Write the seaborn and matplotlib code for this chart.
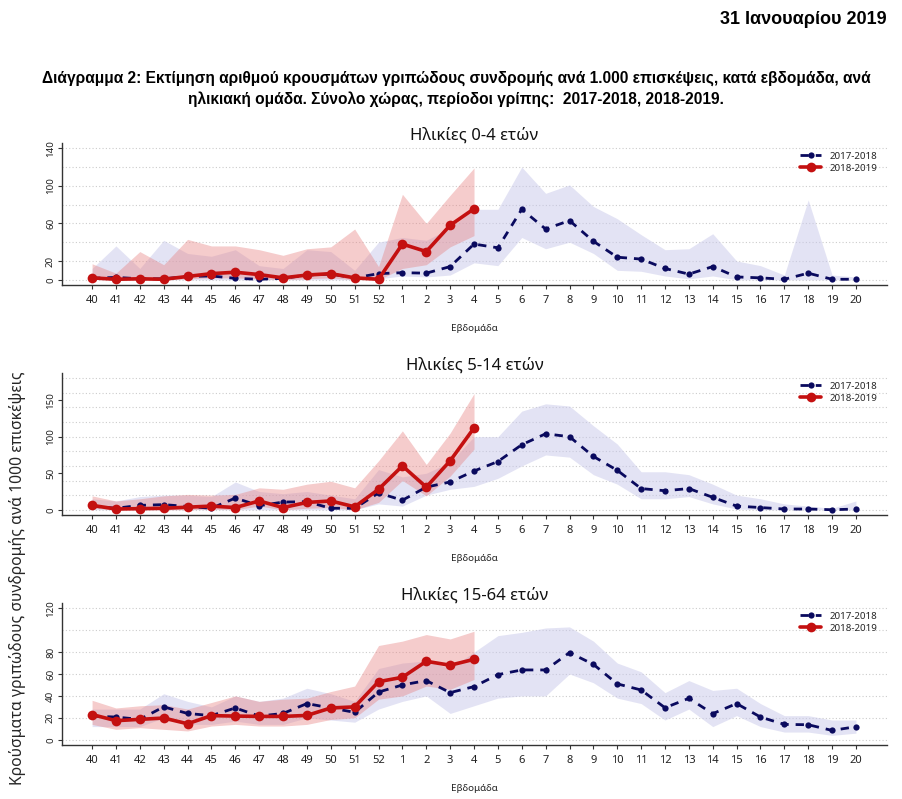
import matplotlib
matplotlib.use("Agg")
import matplotlib.pyplot as plt
import numpy as np
import pandas as pd
import seaborn as sns

# weeks of the flu season (40..52, 1..20)
weeks = [str(w) for w in list(range(40, 53)) + list(range(1, 21))]

# ---- 0-4 years ----
a04_1718 = [1.5, 2.5, 1, 1, 3.5, 4, 1.5, 0.5, 1.5, 5, 6, 2, 6.5, 7.5, 7, 14, 38, 34, 75, 54, 63, 41,
            24, 22, 12, 6, 14, 3, 2, 0.5, 7, 0.5, 0.5]
a04_1718_hi = [12, 36, 12, 42, 28, 25, 32, 15, 12, 32, 30, 10, 40, 45, 42, 55, 75, 75, 120, 92, 101, 78,
               65, 48, 32, 33, 49, 20, 15, 5, 85, 5, 3]
a04_1718_lo = [0, 0, 0, 0, 0, 0, 0, 0, 0, 0, 0, 0, 1, 4, 3, 5, 18, 15, 45, 33, 40, 28,
               10, 9, 4, 1, 4, 0, 0, 0, 0, 0, 0]
a04_1819 = [2, 0.5, 1, 0.5, 3.5, 6.5, 8, 5.5, 2, 5, 6.5, 2, 0.5, 38, 30, 58, 75.6]
a04_1819_hi = [17, 7, 30, 16, 43, 36, 36, 32, 26, 33, 35, 54, 14, 91, 60, 90, 119]
a04_1819_lo = [1, 0, 0, 0, 1, 2, 2, 1, 0, 1, 2, 0, 0, 12, 16, 35, 47]

# ---- 5-14 years ----
a514_1718 = [5, 2, 6, 7, 4.5, 2, 16, 5.5, 10.5, 11, 2, 2, 23, 13, 31, 38, 53, 66, 89, 104, 100, 73,
             54, 29, 26, 29, 17, 5, 3, 1, 1, 0, 1]
a514_1718_hi = [15, 12, 18, 20, 20, 18, 38, 25, 22, 25, 20, 15, 55, 45, 50, 65, 100, 100, 135, 145, 142, 115,
                90, 52, 52, 48, 35, 20, 15, 8, 5, 2, 12]
a514_1718_lo = [0, 0, 0, 0, 0, 0, 0, 0, 0, 0, 0, 0, 8, 5, 20, 28, 32, 43, 60, 75, 72, 48,
                35, 15, 15, 18, 8, 1, 0, 0, 0, 0, 0]
a514_1819 = [6, 1, 1.5, 2, 3.5, 5, 3, 12, 3, 10, 12, 4, 28, 60, 31, 67, 112]
a514_1819_hi = [19, 12, 15, 19, 21, 20, 21, 30, 28, 35, 39, 30, 67, 108, 62, 105, 159]
a514_1819_lo = [2, 0, 0, 0, 0, 1, 0, 5, 0, 2, 3, 0, 10, 40, 19, 46, 83]

# ---- 15-64 years ----
a1564_1718 = [21.6, 20.7, 18.6, 30, 24, 22, 29, 21.6, 24, 33, 29, 25, 43.5, 50, 54, 43, 48.5, 59.4, 63.7,
              63.7, 79.5, 68.8, 51, 45.4, 29.2, 37.8, 23.8, 33, 20.7, 14, 13.7, 8.5, 11.9]
a1564_1718_hi = [28, 28, 28, 42, 35, 30, 40, 35, 38, 47, 42, 35, 65, 70, 72, 65, 80, 95, 98, 102, 103, 90,
                 70, 62, 43, 54, 45, 47, 33, 22, 22, 18, 18]
a1564_1718_lo = [12, 12, 12, 20, 14, 14, 17, 14, 14, 20, 18, 16, 28, 35, 40, 24, 31, 38, 40, 40, 60, 52,
                 38, 33, 18, 28, 12, 22, 12, 7, 7, 4, 6]
a1564_1819 = [23, 17.4, 18.6, 19.8, 14.6, 22, 21.6, 21.3, 21.3, 22.2, 29, 30, 53, 57, 71.6, 68, 73.4]
a1564_1819_hi = [36, 29, 31, 32, 28, 34, 40, 35, 37, 38, 44, 49, 86, 90, 96, 92, 99]
a1564_1819_lo = [14, 9.5, 11, 9.5, 8, 12.5, 14, 12.5, 12.5, 14, 18.5, 20, 37, 40, 49, 46, 55]

panels = [
    ("Ηλικίες 0-4 ετών", a04_1718, a04_1718_lo, a04_1718_hi, a04_1819, a04_1819_lo, a04_1819_hi,
     140, [0, 20, 60, 100, 140]),
    ("Ηλικίες 5-14 ετών", a514_1718, a514_1718_lo, a514_1718_hi, a514_1819, a514_1819_lo, a514_1819_hi,
     180, [0, 50, 100, 150]),
    ("Ηλικίες 15-64 ετών", a1564_1718, a1564_1718_lo, a1564_1718_hi, a1564_1819, a1564_1819_lo, a1564_1819_hi,
     120, [0, 20, 40, 60, 80, 120]),
]

sns.set_style("white")
plt.rcParams['font.family'] = ['Noto Sans', 'DejaVu Sans']

NAVY = "#0a0a5e"
RED = "#c41010"

W, H = 902, 799
fig = plt.figure(figsize=(W / 100, H / 100), dpi=100)

fig.text(887 / W, 1 - 20 / H, "31 Ιανουαρίου 2019", ha="right", va="center",
         fontsize=13, fontweight="bold", color="black", family=['Liberation Sans', 'DejaVu Sans'])
fig.text(456 / W, 1 - 89 / H,
         "Διάγραμμα 2: Εκτίμηση αριθμού κρουσμάτων γριπώδους συνδρομής ανά 1.000 επισκέψεις, κατά εβδομάδα, ανά\n"
         "ηλικιακή ομάδα. Σύνολο χώρας, περίοδοι γρίπης:  2017-2018, 2018-2019.",
         ha="center", va="center", fontsize=11.2, fontweight="bold", linespacing=1.45, color="black",
         family=['Liberation Sans', 'DejaVu Sans'])
fig.text(18 / W, 1 - 578 / H, "Κρούσματα γριπώδους συνδρομής ανά 1000 επισκέψεις",
         rotation=90, ha="center", va="center", fontsize=11.3)

tops = [143, 373, 603]
x_all = np.arange(len(weeks))

for (title, s1, lo1, hi1, s2, lo2, hi2, ymax, yt), top in zip(panels, tops):
    ax = fig.add_axes([62 / W, 1 - (top + 142) / H, 825 / W, 142 / H])
    n2 = len(s2)
    df1 = pd.DataFrame({"pos": x_all, "val": s1, "lo": lo1, "hi": hi1})
    df2 = pd.DataFrame({"pos": x_all[:n2], "val": s2, "lo": lo2, "hi": hi2})

    for g in range(0, ymax + 1, 20):
        ax.axhline(g, color="#cccccc", lw=0.8, ls=(0, (1, 2)), zorder=0)

    ax.fill_between(df1["pos"], df1["lo"], df1["hi"], color="#c8c8ea", alpha=0.5, lw=0, zorder=1)
    ax.fill_between(df2["pos"], df2["lo"], df2["hi"], color="#e88080", alpha=0.4, lw=0, zorder=2)

    sns.lineplot(data=df1, x="pos", y="val", ax=ax, color=NAVY, lw=2, marker="o", markersize=4.5,
                 markeredgewidth=0, dashes=False, label="2017-2018", zorder=3)
    ax.lines[-1].set_linestyle((0, (3, 2.5)))
    sns.lineplot(data=df2, x="pos", y="val", ax=ax, color=RED, lw=2.6, marker="o", markersize=7,
                 markeredgewidth=0, label="2018-2019", zorder=4)

    ax.set_xlim(-1.26, 33.3)
    ax.set_ylim(-0.04 * ymax, 1.04 * ymax)
    ax.set_xticks(x_all)
    ax.set_xticklabels(weeks, fontsize=8, color="#222222")
    ax.set_yticks(yt)
    ax.set_yticklabels([str(v) for v in yt], fontsize=7, rotation=90, va="center", color="#222222")
    ax.tick_params(axis="both", length=3, width=0.8, color="#333333", pad=2, left=True, bottom=True)
    ax.tick_params(axis="x", pad=4)
    for side in ["top", "right"]:
        ax.spines[side].set_visible(False)
    for side in ["left", "bottom"]:
        ax.spines[side].set_color("#333333")
        ax.spines[side].set_linewidth(1.0)

    ax.set_title(title, fontsize=12, pad=2, color="#111111")
    ax.set_xlabel("Εβδομάδα", fontsize=7, labelpad=13, color="#222222")
    ax.set_ylabel("")
    leg = ax.legend(loc="upper right", bbox_to_anchor=(0.995, 0.98), frameon=False, fontsize=7,
                    handlelength=2.2, labelspacing=0.3, borderaxespad=0.2)
    leg.get_lines()[0].set_linestyle((0, (3, 2.5)))

fig.savefig("out.png", dpi=100)
